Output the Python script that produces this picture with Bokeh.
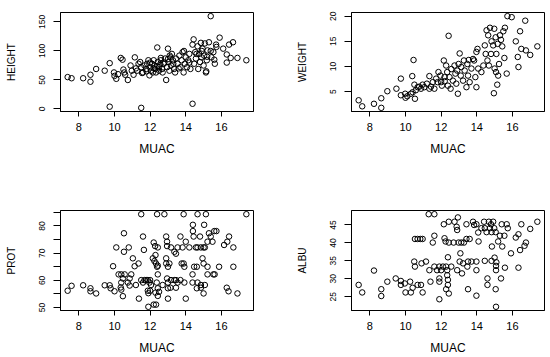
from bokeh.plotting import figure
from bokeh.layouts import column, row
from bokeh.models import Range1d, FixedTicker
from bokeh.embed import file_html
from bokeh.resources import INLINE

# ---------------- data ----------------
muac_h = [7.37, 7.59, 8.24, 8.65, 8.65, 8.97, 9.45, 9.73, 9.73, 9.97, 10.0, 10.1, 10.35, 10.45, 10.5, 10.55, 10.6,
          10.75, 10.9, 10.97, 11.07, 11.14, 11.27, 11.35, 11.44, 11.5, 11.5, 11.6, 11.68, 11.78, 11.83, 11.9, 11.96,
          12.0, 12.05, 12.1, 12.15, 12.2, 12.24, 12.3, 12.33, 12.4, 12.43, 12.5, 12.5, 12.57, 12.6, 12.67, 12.7, 12.76,
          12.84, 12.9, 12.95, 13.0, 13.03, 13.08, 13.14, 13.17, 13.22, 13.28, 13.35, 13.4, 13.45, 13.54, 13.64, 13.7,
          13.77, 13.82, 13.88, 13.95, 14.0, 14.07, 14.14, 14.2, 14.26, 14.38, 14.38, 14.44, 14.47, 14.53, 14.57, 14.66,
          14.7, 14.75, 14.8, 14.85, 14.88, 14.94, 15.0, 15.03, 15.07, 15.13, 15.15, 15.18, 15.22, 15.3, 15.4, 15.44,
          15.55, 15.63, 15.7, 15.72, 15.9, 16.1, 16.3, 16.3, 16.43, 16.52, 16.65, 16.9, 17.4,
          10.2, 11.2, 11.55, 12.2, 12.4, 12.8, 13.0, 13.3, 13.6, 14.2, 14.6, 15.2, 15.4, 12.0, 11.8, 12.6, 13.1, 13.9,
          14.9, 15.6]
height = [55, 53, 53, 59, 47, 69, 66, 79, 4, 63, 57, 52, 88, 85, 68, 63, 59,
          50, 75, 66, 59, 89, 66, 78, 81, 2, 72, 63, 75, 69, 78, 84, 58,
          72, 66, 78, 63, 84, 75, 69, 63, 106, 81, 72, 66, 77, 84, 69, 63, 78,
          87, 50, 72, 104, 81, 66, 89, 75, 95, 84, 69, 63, 87, 78, 92, 72,
          84, 98, 63, 78, 89, 72, 84, 95, 69, 9, 111, 120, 78, 98, 87, 108,
          69, 95, 81, 114, 89, 104, 75, 92, 113, 63, 65, 84, 101, 115, 160, 89,
          98, 78, 111, 107, 123, 104, 94, 80, 111, 88, 115, 88, 84,
          60, 70, 62, 70, 74, 80, 86, 78, 70, 80, 95, 90, 100, 80, 65, 88, 92, 100,
          100, 85]

muac_w = [7.37, 7.57, 8.23, 8.64, 8.64, 8.98, 9.49, 9.74, 9.74, 9.98, 10.0, 10.1, 10.3, 10.4, 10.38, 10.45, 10.5,
          10.53, 10.58, 10.68, 10.77, 10.87, 10.96, 11.06, 11.2, 11.34, 11.43, 11.53, 11.34, 11.62, 11.72, 11.8,
          11.85, 11.96, 12.0, 12.04, 12.15, 12.19, 12.2, 12.28, 12.34, 12.38, 12.42, 12.47, 12.53, 12.57, 12.66,
          12.75, 12.8, 12.85, 12.9, 12.94, 12.98, 13.04, 13.1, 13.13, 13.23, 13.28, 13.32, 13.42, 13.47, 13.51,
          13.55, 13.6, 13.7, 13.79, 13.85, 13.92, 13.98, 14.04, 14.08, 13.98, 14.26, 14.37, 14.45, 14.5, 14.55,
          14.6, 14.64, 14.68, 14.74, 14.8, 14.83, 14.92, 14.98, 15.0, 15.06, 15.08, 15.1, 15.17, 15.2, 15.25,
          15.3, 15.36, 15.43, 15.49, 15.58, 15.55, 15.68, 15.72, 15.96, 16.19, 16.34, 16.43, 16.5, 16.72, 16.76,
          17.0, 17.4, 14.96, 15.15, 16.3]
weight = [3.3, 2.1, 2.6, 3.7, 1.8, 5.1, 5.6, 7.6, 4.3, 4.6, 3.8, 4.1, 4.6, 4.9, 8.1, 11.3, 6.4,
          3.6, 5.3, 5.9, 6.0, 5.6, 6.4, 5.9, 6.6, 5.6, 6.0, 6.9, 8.1, 5.6, 7.6, 6.9,
          8.9, 8.2, 6.9, 6.2, 11.2, 7.9, 7.1, 10.2, 8.9, 6.2, 16.1, 7.9, 5.6, 9.5, 7.2,
          10.2, 8.6, 6.6, 9.2, 4.6, 10.5, 12.6, 8.2, 9.9, 7.2, 11.2, 9.2, 5.9, 10.5, 8.2,
          11.3, 6.9, 9.6, 11.5, 11.2, 7.9, 12.9, 13.5, 9.6, 5.9, 8.9, 10.2, 14.2, 12.5, 17.2,
          11.2, 16.2, 10.2, 17.7, 12.5, 15.0, 14.2, 17.5, 9.6, 15.8, 8.9, 12.5, 14.5, 8.2, 10.5,
          16.2, 15.3, 14.0, 17.0, 17.7, 11.7, 8.6, 20.0, 19.8, 15.0, 9.9, 17.0, 13.5, 19.1, 13.2,
          12.3, 14.0, 4.7, 6.4, 11.9]

muac_p = [11.5, 12.39, 12.8, 13.88, 14.66, 15.13, 17.4, 14.4, 15.03, 14.4, 15.3, 15.6, 15.72, 10.53,
          10.1, 10.8, 11.6, 11.65, 10.53,
          12.2, 12.28, 12.43, 12.9, 12.95, 12.95, 13.17, 13.36, 13.45, 13.54, 13.7, 13.82, 14.0, 14.2, 14.44, 14.57,
          14.66, 14.8, 14.85, 15.0, 15.07, 15.22, 15.4, 15.5, 16.15, 16.33, 16.43, 16.67,
          11.03, 11.35, 11.13, 9.92, 12.15, 12.24, 12.33, 12.43, 12.3, 12.39, 12.9, 12.9, 13.0, 13.08, 13.77, 13.92,
          14.47, 14.62, 15.22, 15.87, 16.67, 14.94, 15.0, 13.88,
          10.23, 10.38, 10.57, 10.94, 10.47, 10.85, 10.38, 10.75,
          11.5, 11.6, 11.68, 11.78, 11.87, 11.96, 12.0, 12.05, 11.87, 11.9, 12.0,
          12.43, 12.37, 12.43, 12.5, 12.43, 12.3,
          12.95, 13.0, 13.17, 13.36, 13.45, 13.54, 13.7, 13.92,
          12.7, 13.0, 13.14, 13.45,
          14.38, 14.38, 14.66, 14.85, 15.07, 14.62, 14.85,
          15.55, 15.62, 15.22,
          15.0, 16.3, 16.4, 16.9,
          7.37, 7.59, 8.24, 8.65, 8.65, 8.97,
          9.45, 9.73, 9.78, 10.0, 10.35, 10.38, 10.47,
          11.37, 11.9, 12.2, 12.33, 13.0, 14.0, 10.85, 11.2]
prot = [84.3, 84.3, 84.3, 84.3, 84.3, 84.3, 84.3, 80.4, 80.4, 78.1, 77.3, 78.1, 78.1, 77.3,
        72.1, 72.1, 76.1, 71.2, 70.5,
        73.9, 72.6, 72.1, 76.1, 74.2, 72.6, 72.1, 70.5, 69.8, 72.1, 76.1, 72.1, 74.2, 72.1, 76.1, 72.1,
        72.1, 76.1, 72.1, 72.1, 72.1, 74.2, 76.1, 74.2, 73.0, 74.2, 76.1, 72.1,
        68.1, 66.2, 65.2, 65.2, 68.1, 67.1, 66.2, 65.4, 69.3, 65.0, 68.1, 66.2, 65.0, 66.2, 66.2, 65.0,
        65.0, 65.0, 65.0, 65.0, 65.0, 68.1, 66.2, 66.2,
        62.2, 62.2, 62.2, 62.2, 60.7, 60.7, 59.2, 59.2,
        60.1, 59.2, 60.1, 60.1, 60.1, 59.2, 60.1, 58.3, 56.2, 55.3, 56.2,
        62.2, 59.2, 57.1, 55.8, 54.3, 55.5,
        60.7, 59.2, 60.1, 60.1, 60.1, 59.2, 60.1, 59.2,
        58.3, 57.1, 57.3, 57.3,
        62.2, 59.2, 59.2, 58.3, 58.3, 57.1, 57.3,
        62.2, 62.2, 62.2,
        55.2, 57.3, 56.0, 55.2,
        56.2, 58.0, 58.2, 57.1, 56.0, 55.2,
        58.2, 58.2, 57.1, 56.0, 57.4, 56.6, 54.2,
        53.3, 50.3, 51.1, 51.1, 53.3, 53.3, 58.1, 58.3]

muac_a = [7.37, 7.57, 8.23, 8.64, 8.64, 8.98, 9.45, 9.74, 9.74, 9.96, 10.0, 10.26, 10.3, 10.4, 10.53, 10.49,
          10.53, 10.68, 10.83, 10.96, 10.68, 10.87, 10.96, 10.9, 11.15, 11.34, 11.4, 11.3, 11.62, 11.53, 11.62,
          11.62, 11.77, 11.9, 11.9, 11.9, 11.9, 12.0, 12.1, 12.15, 12.19, 12.25, 12.28, 12.34, 12.34, 12.38,
          12.38, 12.28, 12.43, 12.43, 12.38, 12.43, 12.57, 12.7, 12.75, 12.87, 12.9, 12.94, 12.98, 12.9, 13.04,
          13.08, 13.13, 13.17, 13.23, 13.28, 13.42, 13.42, 13.47, 13.51, 13.51, 13.6, 13.7, 13.79, 13.85, 13.98,
          13.98, 13.98, 13.98, 14.08, 14.1, 14.26, 14.41, 14.45, 14.45, 14.55, 14.6, 14.6, 14.68, 14.74, 14.8,
          14.83, 14.83, 14.92, 14.98, 15.0, 15.06, 15.08, 15.08, 15.1, 15.06, 15.08, 15.3, 15.4, 15.43, 15.55,
          15.58, 15.68, 15.74, 15.36, 15.92, 16.19, 16.34, 16.34, 16.43, 16.5, 16.68, 16.76, 17.0, 17.4, 15.2,
          14.85]
albu = [28.3, 26.2, 32.3, 27.1, 25.2, 29.2, 30.1, 29.4, 28.3, 28.7, 26.2, 29.2, 26.2, 27.5, 33.4, 34.8,
        41.1, 41.1, 41.1, 41.1, 28.3, 28.3, 26.2, 34.3, 34.8, 32.4, 29.2, 48.0, 48.0, 40.1, 42.0,
        33.4, 32.4, 33.4, 30.1, 29.2, 24.3, 32.4, 33.4, 45.2, 41.3, 40.4, 33.4, 32.4, 31.0, 29.7,
        28.3, 27.1, 45.9, 40.1, 36.0, 25.9, 33.4, 40.1, 45.9, 44.5, 43.6, 47.1, 40.1, 32.4, 34.8,
        37.1, 40.1, 31.5, 34.3, 40.1, 41.1, 45.2, 33.4, 34.8, 27.1, 41.1, 34.8, 45.9, 45.0, 45.2,
        34.8, 32.4, 25.3, 42.9, 40.4, 44.1, 45.9, 44.1, 35.0, 43.0, 30.1, 28.3, 45.9, 44.1, 45.2,
        43.0, 35.0, 45.9, 44.1, 35.9, 43.0, 32.4, 33.6, 34.6, 27.1, 22.2, 42.0, 45.2, 39.0, 42.0,
        33.1, 45.2, 44.1, 30.1, 37.1, 41.5, 42.4, 33.1, 38.0, 45.2, 39.2, 40.1, 43.9, 45.9, 40.4,
        39.0]

x_ticks = [8, 10, 12, 14, 16]
height_ticks = [0, 50, 100, 150]
weight_ticks = [5, 10, 15, 20]
prot_ticks = [50, 55, 60, 65, 70, 75, 80, 85]
prot_labeled = [50, 60, 70, 80]
albu_ticks = [25, 30, 35, 40, 45]

FONT = "Liberation Sans"


def padded(vals):
    lo, hi = min(vals), max(vals)
    d = 0.04 * (hi - lo)
    return Range1d(lo - d, hi + d)


def panel(xs, ys, ylabel, yticks, labeled, left, right, top, bottom, fh):
    p = figure(frame_width=193, frame_height=fh,
               min_border_left=left, min_border_right=right,
               min_border_top=top, min_border_bottom=bottom,
               x_range=padded(xs), y_range=padded(ys),
               output_backend="svg", toolbar_location=None, tools="")
    p.scatter(xs, ys, marker="circle", size=5.5, fill_color=None,
              line_color="black", line_width=1)
    p.grid.visible = False
    p.outline_line_color = "black"
    p.outline_line_width = 1
    p.outline_line_alpha = 1
    p.background_fill_color = "white"
    p.border_fill_color = "white"

    xa = p.xaxis[0]
    xa.ticker = FixedTicker(ticks=x_ticks)
    xa.axis_label = "MUAC"
    xa.axis_label_text_font = FONT
    xa.axis_label_text_font_style = "normal"
    xa.axis_label_text_font_size = "12px"
    xa.axis_label_text_color = "black"
    xa.axis_label_standoff = 8
    xa.major_label_text_font = FONT
    xa.major_label_text_font_size = "11px"
    xa.major_label_text_color = "black"
    xa.major_label_standoff = 6
    xa.major_tick_out = 5
    xa.major_tick_in = 0
    xa.minor_tick_out = 0
    xa.minor_tick_in = 0
    xa.axis_line_color = "black"
    xa.major_tick_line_color = "black"

    ya = p.yaxis[0]
    ya.ticker = FixedTicker(ticks=yticks)
    ya.major_label_overrides = {t: ("" if t not in labeled else str(t)) for t in yticks}
    ya.axis_label = ylabel
    ya.axis_label_text_font = FONT
    ya.axis_label_text_font_style = "normal"
    ya.axis_label_text_font_size = "10px"
    ya.axis_label_text_color = "black"
    ya.axis_label_standoff = 20
    ya.major_label_orientation = "vertical"
    ya.major_label_text_font = FONT
    ya.major_label_text_font_size = "8.5px"
    ya.major_label_text_color = "black"
    ya.major_label_standoff = 8
    ya.major_tick_out = 7
    ya.major_tick_in = 0
    ya.minor_tick_out = 0
    ya.minor_tick_in = 0
    ya.axis_line_color = "black"
    ya.major_tick_line_color = "black"
    return p


p1 = panel(muac_h, height, "HEIGHT", height_ticks, height_ticks, 60, 22, 12, 67, 99)
p2 = panel(muac_w, weight, "WEIGHT", weight_ticks, weight_ticks, 76, 6, 12, 67, 99)
p3 = panel(muac_p, prot, "PROT", prot_ticks, prot_labeled, 60, 22, 32, 47, 100)
p4 = panel(muac_a, albu, "ALBU", albu_ticks, albu_ticks, 76, 6, 32, 47, 100)

layout = column(row(p1, p2, spacing=0), row(p3, p4, spacing=0), spacing=0)

open("out.html", "w").write(file_html(layout, INLINE))
